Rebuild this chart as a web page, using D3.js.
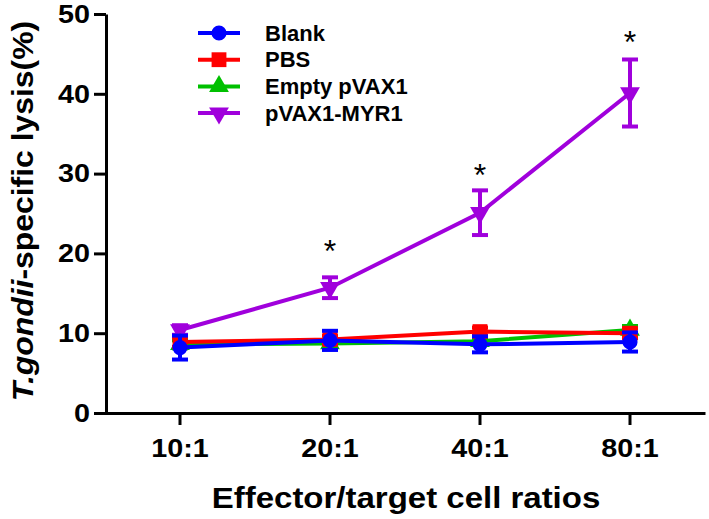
<!DOCTYPE html>
<html>
<head>
<meta charset="utf-8">
<script src="https://cdn.jsdelivr.net/npm/d3@7"></script>
<style>
  html, body { margin: 0; padding: 0; background: #fff; }
  svg { display: block; }
  text { font-family: "Liberation Sans", Arial, sans-serif; }
</style>
</head>
<body>
<svg id="chart" width="709" height="519"></svg>
<script>
// ---- data ----
const categories = ["10:1", "20:1", "40:1", "80:1"];
const seriesNames = ["Blank", "PBS", "Empty pVAX1", "pVAX1-MYR1"];
const blankMean = [8.2, 9.1, 8.6, 8.9];
const blankErr  = [1.5, 1.2, 1.0, 1.2];
const pbsMean   = [8.9, 9.2, 10.2, 10.0];
const pbsErr    = [0.6, 0.5, 0.5, 0.6];
const emptyMean = [8.6, 8.7, 9.0, 10.4];
const emptyErr  = [0.5, 0.5, 0.4, 0.5];
const myrMean   = [10.4, 15.7, 25.1, 40.1];
const myrErr    = [0.6, 1.3, 2.8, 4.2];
const significance = ["", "*", "*", "*"];
const significanceLevel = [null, 21.2, 30.8, 47.4];   // where the mark sits, in % units
const yTicks = [0, 10, 20, 30, 40, 50];
const yTitleItalic = "T.gondii";
const yTitleRest = "-specific lysis(%)";
const xTitle = "Effector/target cell ratios";

// ---- styles ----
const colors = ["#0000FF", "#FF0000", "#00C000", "#A000DC"];
const symbols = [d3.symbolCircle, d3.symbolSquare, d3.symbolTriangle, d3.symbolTriangle];
const symSize = [180, 220, 170, 170];
const symRot = [0, 0, 0, 180];

const series = [
  {name: seriesNames[0], mean: blankMean, err: blankErr},
  {name: seriesNames[1], mean: pbsMean, err: pbsErr},
  {name: seriesNames[2], mean: emptyMean, err: emptyErr},
  {name: seriesNames[3], mean: myrMean, err: myrErr}
].map((s, i) => Object.assign(s, {color: colors[i], symbol: symbols[i], size: symSize[i], rot: symRot[i]}));

const svg = d3.select("#chart");
const x = d3.scaleBand().domain(categories).range([105, 705]).paddingInner(0).paddingOuter(0);
const cx = c => x(c) + x.bandwidth() / 2;
const y = d3.scaleLinear().domain([0, 50]).range([413, 14]);

// axes
const yAxis = svg.append("g").attr("transform", "translate(106,0)")
  .call(d3.axisLeft(y).tickValues(yTicks).tickSize(12).tickSizeOuter(0).tickPadding(14));
const xAxis = svg.append("g").attr("transform", "translate(0,413)")
  .call(d3.axisBottom(x).tickSize(12).tickSizeOuter(0).tickPadding(14));
[yAxis, xAxis].forEach(g => {
  g.select(".domain").attr("stroke", "#000").attr("stroke-width", 3);
  g.selectAll(".tick line").attr("stroke", "#000").attr("stroke-width", 3);
  g.selectAll(".tick text").attr("fill", "#000").style("font-size", "25px").style("font-weight", "bold");
});
yAxis.selectAll(".tick text")
  .attr("x", null).attr("dy", null)
  .attr("dominant-baseline", "central")
  .attr("transform", "translate(-16,0) scale(1.15,1)");
xAxis.selectAll(".tick text")
  .attr("y", null).attr("dy", null)
  .attr("transform", "translate(0,44) scale(1.15,1)");

// axis titles
const yt = svg.append("text")
  .attr("transform", "translate(33,211) rotate(-90) scale(1.1,1)")
  .attr("text-anchor", "middle")
  .style("font-size", "29px").style("font-weight", "bold").attr("fill", "#000");
yt.append("tspan").style("font-style", "italic").text(yTitleItalic);
yt.append("tspan").text(yTitleRest);

svg.append("text")
  .attr("transform", "translate(406,508) scale(1.1,1)")
  .attr("text-anchor", "middle")
  .style("font-size", "30px").style("font-weight", "bold").attr("fill", "#000")
  .text(xTitle);

// data (draw purple first, blue last on top)
const drawOrder = [3, 2, 1, 0];
const line = d3.line().x(d => cx(d.c)).y(d => y(d.v));
drawOrder.forEach(i => {
  const s = series[i];
  const pts = categories.map((c, k) => ({c, v: s.mean[k], e: s.err[k]}));
  const g = svg.append("g");
  g.append("path").datum(pts).attr("d", line)
    .attr("fill", "none").attr("stroke", s.color).attr("stroke-width", 4);
  // error bars
  pts.forEach(p => {
    const xx = cx(p.c);
    g.append("line").attr("x1", xx).attr("x2", xx).attr("y1", y(p.v + p.e)).attr("y2", y(p.v - p.e))
      .attr("stroke", s.color).attr("stroke-width", 4);
    [p.v + p.e, p.v - p.e].forEach(v => {
      g.append("line").attr("x1", xx - 8).attr("x2", xx + 8).attr("y1", y(v)).attr("y2", y(v))
        .attr("stroke", s.color).attr("stroke-width", 4);
    });
  });
  g.selectAll("path.m").data(pts).enter().append("path").attr("class", "m")
    .attr("d", d3.symbol().type(s.symbol).size(s.size))
    .attr("transform", d => `translate(${cx(d.c)},${y(d.v)}) rotate(${s.rot})`)
    .attr("fill", s.color);
});

// significance marks
categories.forEach((c, k) => {
  if (!significance[k]) return;
  const cy = y(significanceLevel[k]);
  svg.append("text").attr("x", cx(c)).attr("y", cy + 0.58 * 32)
    .attr("text-anchor", "middle").style("font-size", "32px").attr("fill", "#000")
    .text(significance[k]);
});

// legend
const legY0 = 33, legDy = 26.7;
series.forEach((s, i) => {
  const ly = legY0 + i * legDy;
  const g = svg.append("g");
  g.append("line").attr("x1", 198).attr("x2", 240).attr("y1", ly).attr("y2", ly)
    .attr("stroke", s.color).attr("stroke-width", 4);
  g.append("path").attr("d", d3.symbol().type(s.symbol).size(s.size))
    .attr("transform", `translate(219,${ly}) rotate(${s.rot})`).attr("fill", s.color);
  g.append("text").attr("x", 265).attr("y", ly).attr("dominant-baseline", "central")
    .style("font-size", "22px").style("font-weight", "bold").attr("fill", "#000").text(s.name);
});
</script>
</body>
</html>
